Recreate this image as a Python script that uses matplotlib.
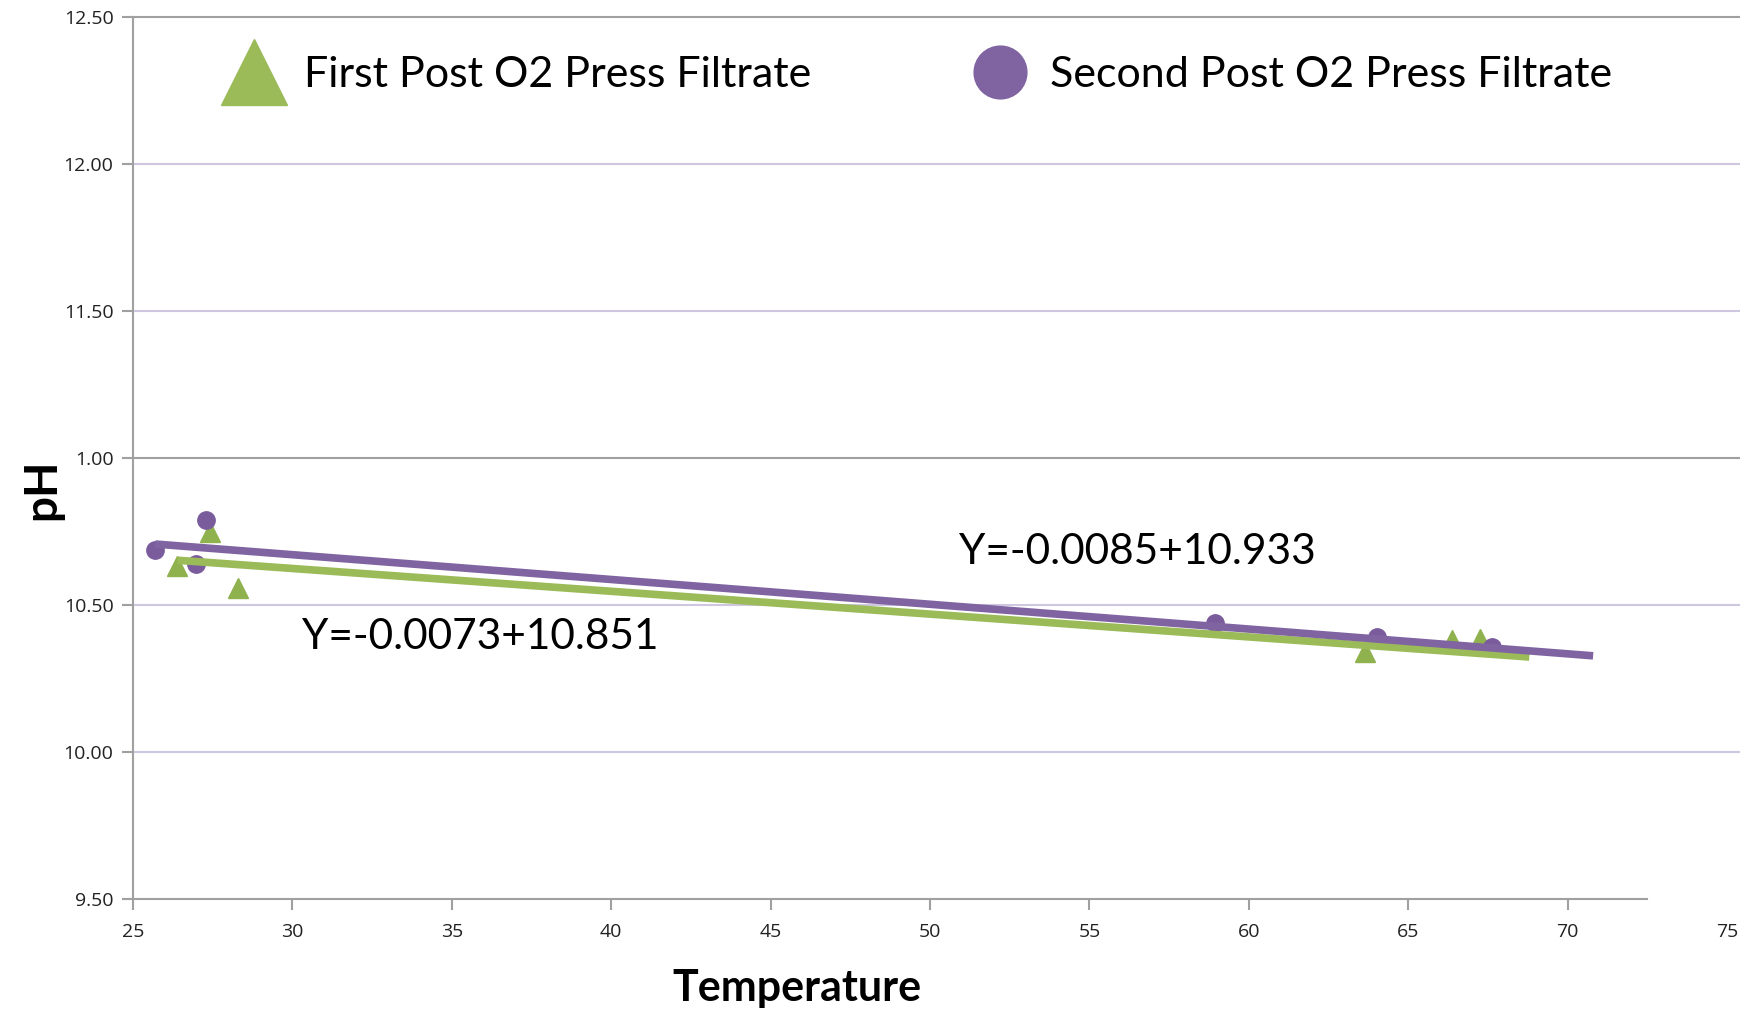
import matplotlib
matplotlib.use("Agg")
import matplotlib.pyplot as plt
from matplotlib.lines import Line2D
import numpy as np

# ---- data ----
green_x = [26.38, 27.41, 28.29, 63.65, 66.38, 67.26]
green_y = [10.633, 10.748, 10.558, 10.340, 10.381, 10.384]
purple_x = [25.69, 26.97, 27.29, 58.95, 64.03, 67.63]
purple_y = [10.687, 10.639, 10.789, 10.439, 10.391, 10.357]

green_trend_x = [26.4, 68.8]
green_trend_coef = [-0.00776, 10.857]
purple_trend_x = [25.7, 70.8]
purple_trend_coef = [-0.00843, 10.924]

x_ticks = [25, 30, 35, 40, 45, 50, 55, 60, 65, 70, 75]
y_ticks = [9.5, 10.0, 10.5, 11.0, 11.5, 12.0, 12.5]
y_tick_labels = ["9.50", "10.00", "10.50", "1.00", "11.50", "12.00", "12.50"]

series_labels = ["First Post O2 Press Filtrate", "Second Post O2 Press Filtrate"]
eq_green = "Y=-0.0073+10.851"
eq_purple = "Y=-0.0085+10.933"

GREEN = "#9BBB59"
GREEN_M = "#8FB24F"
PURPLE = "#8064A2"
PURPLE_M = "#7A5C9C"
GRID_P = "#CFC7E0"
GRAY = "#A0A0A0"

fig = plt.figure(figsize=(17.56, 10.09), dpi=100)
ax = fig.add_axes([133/1756, 110/1009, (1727-133)/1756, 882/1009])
ax.set_xlim(25, 75)
ax.set_ylim(9.5, 12.5)

# gridlines
for v in y_ticks[1:]:
    col = GRAY if v in (11.0, 12.5) else GRID_P
    ax.axhline(v, xmax=1.0075, color=col, lw=1.5, zorder=0, clip_on=False)

for s in ["top", "right"]:
    ax.spines[s].set_visible(False)
for s in ["left", "bottom"]:
    ax.spines[s].set_color(GRAY)
    ax.spines[s].set_linewidth(1.5)
ax.spines["bottom"].set_bounds(25, 72.5)

ax.set_xticks(x_ticks)
ax.set_xticklabels([str(t) for t in x_ticks])
ax.set_yticks(y_ticks)
ax.set_yticklabels(y_tick_labels)
ax.tick_params(axis="both", colors=GRAY, length=8, width=1.5, labelcolor="#222222",
               labelsize=14)
ax.tick_params(axis="x", pad=9)
ax.tick_params(axis="y", pad=6)
ax.xaxis.get_major_ticks()[-1].tick1line.set_visible(False)
for lab in ax.get_xticklabels() + ax.get_yticklabels():
    lab.set_fontfamily("Open Sans")

# markers
ax.plot(green_x, green_y, linestyle="none", marker="^", markersize=14,
        color=GREEN_M, zorder=3)
ax.plot(purple_x, purple_y, linestyle="none", marker="o", markersize=12.5,
        color=PURPLE_M, zorder=3)

# trend lines
gx = np.array(green_trend_x)
ax.plot(gx, np.polyval(green_trend_coef, gx), color=GREEN, lw=5.5,
        solid_capstyle="butt", zorder=4)
px = np.array(purple_trend_x)
ax.plot(px, np.polyval(purple_trend_coef, px), color=PURPLE, lw=5.5,
        solid_capstyle="butt", zorder=5)

# equations
ax.text(30.3, 10.39, eq_green, fontsize=30.5, family="Lato",
        va="center", ha="left")
ax.text(50.9, 10.68, eq_purple, fontsize=30.5, family="Lato",
        va="center", ha="left")

# labels
ax.set_xlabel("Temperature", fontsize=31, fontweight="bold", family="Lato")
ax.xaxis.label.set_va("center")
ax.xaxis.set_label_coords(0.4166, -0.101)
ax.set_ylabel("pH", fontsize=33, fontweight="bold", family="Lato")
ax.yaxis.label.set_va("center")
ax.yaxis.set_label_coords(-0.057, 0.465)

# legend
handles = [Line2D([], [], linestyle="none", marker="^", markersize=47, color=GREEN),
           Line2D([], [], linestyle="none", marker="o", markersize=38, color=PURPLE)]
leg = ax.legend(handles, series_labels, ncol=2, loc="center left",
                bbox_to_anchor=(0.030, 0.934), frameon=False,
                prop={"family": "Lato", "size": 31}, handletextpad=0.35,
                columnspacing=3.6, handlelength=1.6)

fig.savefig("out.png", dpi=100)
